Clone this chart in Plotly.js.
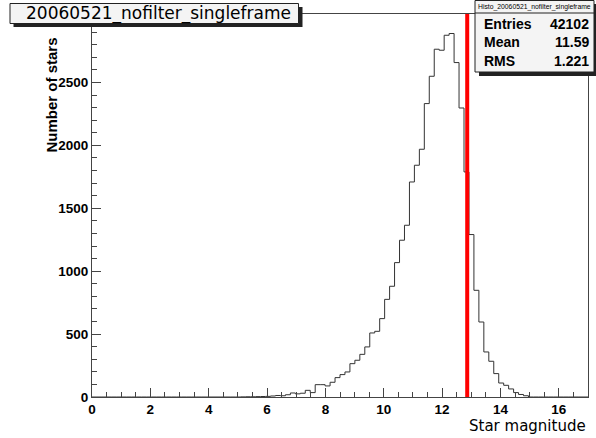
<!DOCTYPE html>
<html>
<head>
<meta charset="utf-8">
<script src="https://cdn.plot.ly/plotly-3.0.1.min.js"></script>
<style>
  html, body { margin: 0; padding: 0; background: #ffffff; }
  #chart { width: 596px; height: 438px; }
</style>
</head>
<body>
<div id="chart"></div>
<script>
// ---- data ----
const histTitle = "20060521_nofilter_singleframe";
const histName = "Histo_20060521_nofilter_singleframe";
const xTitle = "Star magnitude";
const yTitle = "Number of stars";
const nBins = 100;
const xLow = 0;
const xHigh = 17;
const binCounts = [
  0, 0, 0, 0, 0, 0, 0, 0, 0, 0,
  0, 0, 0, 0, 0, 0, 0, 0, 0, 0,
  0, 0, 0, 0, 0, 0, 0, 0, 0, 0,
  1, 2, 2, 3, 4, 5, 8, 12, 10, 18,
  32, 25, 30, 53, 35, 98, 98, 88, 117, 154,
  178, 199, 265, 292, 339, 398, 509, 522, 623, 776,
  880, 1068, 1246, 1365, 1709, 1842, 1969, 2332, 2549, 2764,
  2756, 2875, 2889, 2658, 2297, 1789, 1291, 848, 596, 358,
  284, 186, 111, 93, 64, 35, 20, 10, 0, 0,
  0, 0, 0, 0, 0, 0, 0, 0, 0, 0
];
const statLabels = ["Entries", "Mean", "RMS"];
const statValues = ["42102", "11.59", "1.221"];
const cutMagnitude = 12.86;
const yMax = 3044;

// ---- build step outline through the library's axes ----
const binWidth = (xHigh - xLow) / nBins;
const stepX = [];
const stepY = [];
for (let i = 0; i < nBins; i++) {
  stepX.push(xLow + i * binWidth);
  stepY.push(binCounts[i]);
}
stepX.push(xHigh);
stepY.push(binCounts[nBins - 1]);

// ---- layout helpers (pixel -> paper) ----
const W = 596, H = 438, mL = 92, mR = 8, mT = 14, mB = 41;
const pw = W - mL - mR, ph = H - mT - mB;
const px = x => (x - mL) / pw;
const py = y => (H - mB - y) / ph;

const frameColor = '#444';
const tickFont = { family: 'Liberation Sans, Arial, sans-serif', size: 13.5, color: '#000', weight: 'bold' };

const shapes = [
  // cut line
  { type: 'line', xref: 'x', yref: 'paper', x0: cutMagnitude, x1: cutMagnitude, y0: 0, y1: 1,
    line: { color: '#ff0000', width: 4 }, layer: 'above' },
  // title box shadow + box
  { type: 'rect', xref: 'paper', yref: 'paper', x0: px(13.5), x1: px(302.5), y0: py(27), y1: py(7),
    fillcolor: '#222', line: { width: 0 } },
  { type: 'rect', xref: 'paper', yref: 'paper', x0: px(10), x1: px(298.5), y0: py(23.5), y1: py(3.5),
    fillcolor: '#f4f4f4', line: { color: '#222', width: 1 } },
  // stats box shadow + box
  { type: 'rect', xref: 'paper', yref: 'paper', x0: px(479), x1: px(600), y0: py(76), y1: py(4),
    fillcolor: '#222', line: { width: 0 } },
  { type: 'rect', xref: 'paper', yref: 'paper', x0: px(475), x1: px(594), y0: py(72), y1: py(0.5),
    fillcolor: '#f4f4f4', line: { color: '#222', width: 1 } },
  { type: 'line', xref: 'paper', yref: 'paper', x0: px(475), x1: px(594), y0: py(13), y1: py(13),
    line: { color: '#222', width: 1 } }
];

const annotations = [
  { xref: 'paper', yref: 'paper', x: px(158), y: py(13.5), xanchor: 'center', yanchor: 'middle',
    text: histTitle, showarrow: false,
    font: { family: 'DejaVu Sans, sans-serif', size: 17, color: '#000' } },
  { xref: 'paper', yref: 'paper', x: px(534.5), y: py(7), xanchor: 'center', yanchor: 'middle',
    text: histName, showarrow: false,
    font: { family: 'Liberation Sans, Arial, sans-serif', size: 6.8, color: '#000' } },
  { xref: 'paper', yref: 'paper', x: px(51), y: py(95.5), xanchor: 'center', yanchor: 'middle',
    text: yTitle, textangle: -90, showarrow: false,
    font: { family: 'Liberation Sans, Arial, sans-serif', size: 15, color: '#000', weight: 'bold' } },
  { xref: 'paper', yref: 'paper', x: px(527), y: py(425.5), xanchor: 'center', yanchor: 'middle',
    text: xTitle, showarrow: false,
    font: { family: 'DejaVu Sans, sans-serif', size: 15, color: '#000' } }
];
const rowY = [24, 42.5, 61];
statLabels.forEach((lab, i) => {
  annotations.push({ xref: 'paper', yref: 'paper', x: px(482), y: py(rowY[i]), xanchor: 'left', yanchor: 'middle',
    text: lab, showarrow: false,
    font: { family: 'Liberation Sans, Arial, sans-serif', size: 14, color: '#000', weight: 'bold' } });
  annotations.push({ xref: 'paper', yref: 'paper', x: px(591), y: py(rowY[i]), xanchor: 'right', yanchor: 'middle',
    text: statValues[i], showarrow: false,
    font: { family: 'Liberation Sans, Arial, sans-serif', size: 14, color: '#000', weight: 'bold' } });
});

const trace = {
  type: 'scatter', mode: 'lines', x: stepX, y: stepY,
  line: { shape: 'hv', color: '#333', width: 1 },
  hoverinfo: 'skip', showlegend: false, cliponaxis: true
};

const layout = {
  width: W, height: H,
  margin: { l: mL, r: mR, t: mT, b: mB, pad: 0 },
  paper_bgcolor: '#ffffff', plot_bgcolor: '#ffffff',
  showlegend: false,
  xaxis: {
    range: [xLow, xHigh], dtick: 2, tick0: 0, ticks: 'inside', ticklen: 9, tickcolor: frameColor,
    showgrid: false, zeroline: false, showline: true, linecolor: frameColor, linewidth: 1, mirror: true,
    tickfont: tickFont,
    minor: { dtick: 0.5, ticks: 'inside', ticklen: 5, tickcolor: frameColor, showgrid: false }
  },
  yaxis: {
    range: [0, yMax], dtick: 500, tick0: 0, ticks: 'inside', ticklen: 9, tickcolor: frameColor,
    showgrid: false, zeroline: false, showline: true, linecolor: frameColor, linewidth: 1, mirror: true,
    tickfont: tickFont,
    minor: { dtick: 100, ticks: 'inside', ticklen: 5, tickcolor: frameColor, showgrid: false }
  },
  shapes: shapes,
  annotations: annotations
};

Plotly.newPlot('chart', [trace], layout, { staticPlot: true, displayModeBar: false });
</script>
</body>
</html>
